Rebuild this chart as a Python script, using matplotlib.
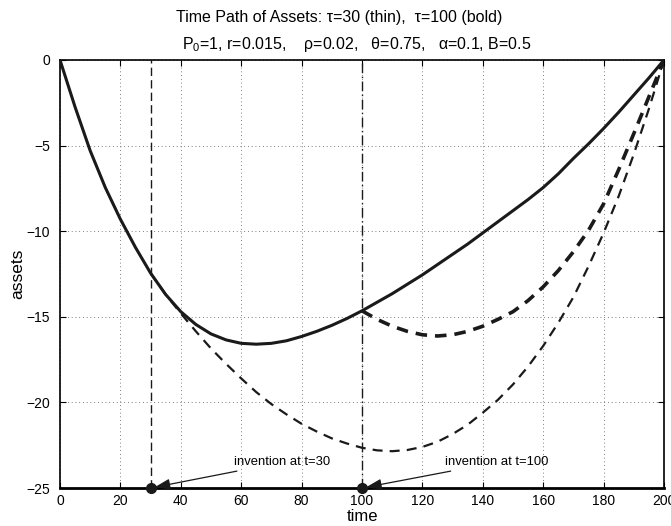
import matplotlib
matplotlib.use("Agg")
import matplotlib.pyplot as plt

plt.rcParams['font.family'] = ['Liberation Sans', 'DejaVu Sans']

# time grid (step 5) and asset paths
t_full = list(range(0, 201, 5))
assets_base = [0, -2.75, -5.3, -7.45, -9.3, -10.95, -12.45, -13.7, -14.7, -15.45,
               -16.0, -16.35, -16.55, -16.6, -16.55, -16.4, -16.15, -15.85, -15.5, -15.1,
               -14.65, -14.15, -13.65, -13.1, -12.55, -11.95, -11.35, -10.75, -10.1, -9.45,
               -8.8, -8.15, -7.45, -6.65, -5.75, -4.9, -4.0, -3.05, -2.05, -1.05, 0]

t_thin = list(range(30, 201, 5))
assets_thin = [-12.45, -13.7, -14.8, -15.85, -16.85, -17.75, -18.6, -19.4, -20.1, -20.7,
               -21.25, -21.7, -22.1, -22.4, -22.65, -22.8, -22.85, -22.78, -22.6, -22.3,
               -21.85, -21.3, -20.6, -19.85, -18.95, -17.9, -16.7, -15.35, -13.85, -12.05,
               -10.1, -7.95, -5.5, -2.85, 0]

t_bold = list(range(100, 201, 5))
assets_bold = [-14.65, -15.15, -15.55, -15.85, -16.05, -16.12, -16.05, -15.85, -15.55, -15.15,
               -14.7, -14.05, -13.25, -12.3, -11.2, -9.95, -8.4, -6.4, -4.3, -2.15, 0]

tau_thin, tau_bold = 30, 100
y_min, y_max = -25, 0

fig = plt.figure(figsize=(6.71, 5.26), dpi=100)
ax = fig.add_axes([0.0894, 0.0722, 0.9002, 0.8138])

ax.plot(t_full, assets_base, color='#1a1a1a', lw=2.2, solid_capstyle='butt', zorder=4)
ax.plot(t_thin, assets_thin, color='#1a1a1a', lw=1.6, dashes=(4.5, 3.2), zorder=3)
ax.plot(t_bold, assets_bold, color='#1a1a1a', lw=2.6, dashes=(3.2, 2.2), zorder=3)

ax.axvline(tau_thin, color='#1a1a1a', lw=1.0, dashes=(6, 3), zorder=2)
ax.axvline(tau_bold, color='#1a1a1a', lw=1.0, dashes=(7, 2.5, 1, 2.5), zorder=2)

ax.plot([tau_thin, tau_bold], [y_min, y_min], 'o', color='#1a1a1a', ms=7,
        clip_on=False, zorder=6)

arrow = dict(arrowstyle='-|>,head_length=1.0,head_width=0.35', color='#1a1a1a',
             lw=0.9, shrinkA=0, shrinkB=3)
ax.annotate('invention at t=30', xy=(tau_thin, y_min), xytext=(57.5, -23.5),
            fontsize=9.4, va='center', ha='left', arrowprops=arrow, zorder=7)
ax.annotate('invention at t=100', xy=(tau_bold, y_min), xytext=(127.5, -23.5),
            fontsize=9.4, va='center', ha='left', arrowprops=arrow, zorder=7)

ax.set_xlim(0, 200)
ax.set_ylim(y_min, y_max)
ax.set_xticks(range(0, 201, 20))
ax.set_yticks(range(-25, 1, 5))
ax.set_yticklabels(['\u221225', '\u221220', '\u221215', '\u221210', '\u22125', '0'])

ax.grid(True, color='#555555', lw=0.6, linestyle=(0, (1, 3.5)))
ax.set_axisbelow(True)
ax.tick_params(direction='in', length=4, width=0.8, labelsize=10,
               top=True, right=True)
ax.tick_params(axis='y', pad=7)
ax.tick_params(axis='x', pad=4)
for side in ['left', 'right', 'top']:
    ax.spines[side].set_linewidth(1.2)
ax.spines['bottom'].set_linewidth(2.0)

ax.set_xlabel('time', fontsize=12, labelpad=1)
ax.set_ylabel('assets', fontsize=12.5, labelpad=1)

fig.text(0.505, 0.966, 'Time Path of Assets: \u03c4=30 (thin),  \u03c4=100 (bold)',
         ha='center', va='center', fontsize=11.5)
fig.text(0.531, 0.915,
         'P$_\\mathregular{0}$=1, r=0.015,    \u03c1=0.02,   \u03b8=0.75,   \u03b1=0.1, B=0.5',
         ha='center', va='center', fontsize=11.5)

fig.savefig('out.png', dpi=100)
